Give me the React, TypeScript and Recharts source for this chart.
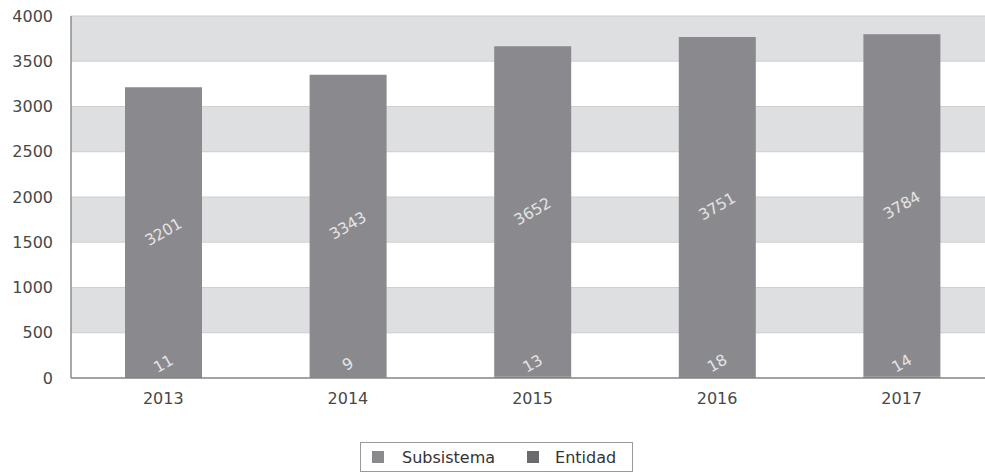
import { BarChart, Bar, XAxis, YAxis, CartesianGrid, Legend } from 'recharts';

const years = ['2013', '2014', '2015', '2016', '2017'];
const subsistema = [3201, 3343, 3652, 3751, 3784];
const entidad = [11, 9, 13, 18, 14];
const yTicks = [0, 500, 1000, 1500, 2000, 2500, 3000, 3500, 4000];

const FONT = '"DejaVu Sans", Verdana, sans-serif';
const COLOR_SUB = '#8a8a8e';
const COLOR_ENT = '#6a6a6c';

const data = years.map((year, i) => ({
  year,
  subsistema: subsistema[i],
  entidad: entidad[i],
}));

// etiqueta centrada y girada dentro de la barra
const SubLabel = (props: any) => {
  const { x, y, width, height, index } = props;
  const cx = x + width / 2;
  const cy = y + height / 2;
  return (
    <text
      x={cx}
      y={cy}
      fill="#e4e4e6"
      fontSize={15.5}
      fontFamily={FONT}
      textAnchor="middle"
      dominantBaseline="central"
      transform={`rotate(-30 ${cx} ${cy})`}
    >
      {subsistema[index]}
    </text>
  );
};

// etiqueta de Entidad, al pie de la barra
const EntLabel = (props: any) => {
  const { x, y, width, index } = props;
  const cx = x + width / 2;
  const cy = y - 13;
  return (
    <text
      x={cx}
      y={cy}
      fill="#e4e4e6"
      fontSize={15.5}
      fontFamily={FONT}
      textAnchor="middle"
      dominantBaseline="central"
      transform={`rotate(-30 ${cx} ${cy})`}
    >
      {entidad[index]}
    </text>
  );
};

const LegendBox = () => (
  <div style={{ height: 36, display: 'flex', alignItems: 'flex-start' }}>
    <div
      style={{
        marginLeft: 360,
        marginTop: 4,
        height: 30,
        border: '1px solid #9a9a9a',
        display: 'flex',
        alignItems: 'center',
        padding: '0 16px 0 11px',
        fontFamily: FONT,
        fontSize: 16,
        color: '#333',
        boxSizing: 'border-box',
      }}
    >
      <span style={{ width: 12, height: 12, background: COLOR_SUB, display: 'inline-block' }} />
      <span style={{ marginLeft: 18 }}>Subsistema</span>
      <span style={{ width: 12, height: 12, background: COLOR_ENT, display: 'inline-block', marginLeft: 32 }} />
      <span style={{ marginLeft: 16 }}>Entidad</span>
    </div>
  </div>
);

export default function App() {
  return (
    <div style={{ width: 985, height: 474, overflow: 'hidden', background: '#fff' }}>
      <style>{'html, body { margin: 0; padding: 0; overflow: hidden; }'}</style>
      <BarChart
        width={1000}
        height={474}
        data={data}
        margin={{ top: 16, right: 6, left: 0, bottom: 0 }}
        barSize={77}
      >
        <CartesianGrid
          vertical={false}
          stroke="#cfcfd1"
          horizontalFill={['#dedfe1', '#ffffff']}
          fillOpacity={1}
        />
        <XAxis
          dataKey="year"
          height={60}
          tickLine={false}
          tickMargin={9}
          axisLine={{ stroke: '#8c8c8c', strokeWidth: 1.5 }}
          tick={{ fontSize: 16, fill: '#484848', fontFamily: FONT }}
        />
        <YAxis
          width={71}
          domain={[0, 4000]}
          ticks={yTicks}
          interval={0}
          tickLine={false}
          tickMargin={12}
          axisLine={{ stroke: '#8c8c8c', strokeWidth: 1.5 }}
          tick={{ fontSize: 16, fill: '#484848', fontFamily: FONT }}
        />
        <Legend verticalAlign="bottom" content={<LegendBox />} wrapperStyle={{ left: 0, width: 1000, bottom: 0 }} />
        <Bar
          dataKey="entidad"
          name="Entidad"
          stackId="a"
          fill={COLOR_ENT}
          isAnimationActive={false}
          label={<EntLabel />}
        />
        <Bar
          dataKey="subsistema"
          name="Subsistema"
          stackId="a"
          fill={COLOR_SUB}
          isAnimationActive={false}
          label={<SubLabel />}
        />
      </BarChart>
    </div>
  );
}
